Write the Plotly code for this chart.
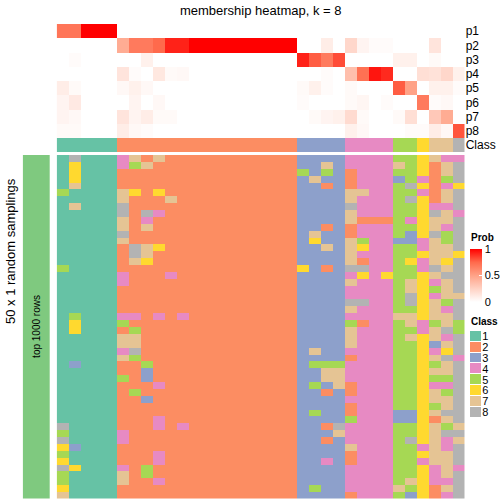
import plotly.graph_objects as go

W = H = 504
def fx(px): return px / W
def fy(py): return 1 - py / H

# ---------------- data ----------------
n_cols = 34
col_ids = list(range(n_cols))
prob_labels = ["p1", "p2", "p3", "p4", "p5", "p6", "p7", "p8"]

p1 = [0.7, 0.7, 1, 1, 1] + [0] * 29
p2 = [0, 0, 0, 0, 0, 0.45, 0.68, 0.68, 0.75, 0.92, 0.92] + [1.0] * 9 + \
     [0, 0, 0.1, 0, 0.22, 0.06, 0.02, 0.02, 0, 0, 0, 0.15, 0, 0]
p3 = [0, 0.02, 0, 0, 0, 0, 0, 0.08] + [0] * 12 + \
     [0.92, 0.78, 0.68, 0.82, 0, 0, 0, 0, 0.08, 0.08, 0, 0.03, 0, 0]
p4 = [0, 0, 0, 0, 0, 0.15, 0.02, 0, 0.13, 0.03, 0.04] + [0] * 9 + \
     [0, 0, 0.02, 0, 0.35, 0.72, 0.95, 0.9, 0, 0, 0.18, 0.16, 0.22, 0.08]
p5 = [0.1, 0.03, 0, 0, 0, 0.04, 0.08, 0.04, 0, 0, 0] + [0] * 9 + \
     [0.03, 0.08, 0.02, 0, 0.03, 0, 0, 0, 0.78, 0.5, 0, 0.08, 0.08, 0.02]
p6 = [0.06, 0.12, 0, 0, 0, 0, 0.06, 0, 0.04, 0, 0] + [0] * 9 + \
     [0.02, 0, 0, 0, 0.03, 0.05, 0, 0.02, 0, 0, 0.68, 0.02, 0.04, 0]
p7 = [0.06, 0.04, 0, 0, 0, 0.15, 0.06, 0.1, 0.03, 0.03, 0] + [0] * 9 + \
     [0, 0.03, 0.06, 0.08, 0.2, 0.03, 0, 0, 0.03, 0.18, 0, 0.3, 0.45, 0]
p8 = [0.03, 0.03, 0, 0, 0, 0.1, 0.04, 0.02, 0, 0, 0] + [0] * 9 + \
     [0, 0, 0, 0, 0.08, 0.04, 0, 0, 0, 0.02, 0.02, 0.1, 0.04, 0.8]

col_class = [1] * 5 + [2] * 15 + [3] * 4 + [4] * 4 + [5] * 2 + [6] + [7] * 2 + [8]

body_rows = [
    "18111 472722222222222 3333 4444 55 6 74 4",
    "16111 457222222222222 3373 4444 75 6 27 8",
    "16111 222222222222222 5353 2444 55 6 27 8",
    "16111 222222222222222 3733 2444 35 4 25 8",
    "17111 222222222222222 3323 2444 58 6 24 6",
    "51111 762622222222222 3333 7744 55 4 27 8",
    "11111 722272222222222 3333 7444 58 6 27 8",
    "17111 822222222222222 3333 8444 55 6 44 8",
    "11111 828422222222222 3333 7444 55 6 87 4",
    "11111 724222222222222 3333 7222 54 6 77 8",
    "11111 727222222222222 3323 2444 55 6 74 8",
    "11111 822222222222222 3733 2444 53 6 85 8",
    "11111 722222222222222 3633 7544 33 4 75 8",
    "11111 287622222222222 3373 7644 55 4 77 8",
    "11111 287222222222222 3333 7444 55 6 77 6",
    "11111 276222222222222 3333 7244 56 4 76 8",
    "51111 222222222222222 6323 8844 55 4 87 8",
    "11111 422242222222222 3333 4646 55 6 78 8",
    "11111 422222222222222 3333 7444 57 6 47 8",
    "11111 222222222222222 3333 4444 57 6 57 8",
    "11111 222222222222222 3333 4444 58 6 47 7",
    "11111 222222222222222 3333 8844 58 6 75 8",
    "11111 222222222222222 3333 7444 55 6 74 8",
    "15111 442424222222222 3333 4444 77 6 77 8",
    "16111 522222222222222 3333 5244 57 4 57 5",
    "16111 252222222222222 3333 7444 55 4 78 5",
    "11111 772222222222222 3333 7444 57 6 74 8",
    "11111 772222222222222 3333 7444 55 6 37 8",
    "11111 482222222222222 3733 4444 55 6 46 8",
    "11111 752222222222222 3333 2444 55 6 78 4",
    "13111 225222222222222 3555 4444 55 6 57 8",
    "11111 223222222222222 3377 4444 55 6 77 8",
    "11111 523222222222222 3377 4444 55 6 55 8",
    "11111 222422222222222 3537 2444 55 6 44 8",
    "11111 252222222222222 3323 2444 55 6 75 8",
    "11111 223222222222222 3333 4444 55 6 77 8",
    "11111 222222222222222 3333 2444 55 6 57 8",
    "11111 222222222222222 3533 2444 33 6 78 8",
    "11111 222422222222222 3333 5444 33 6 27 8",
    "81111 222424222222222 3328 4444 55 6 75 7",
    "51111 422222222222222 3337 4444 55 6 78 8",
    "81111 422222222222222 3323 4444 58 6 74 7",
    "63111 222222222222222 3333 7444 55 4 74 8",
    "51111 222422222222222 3333 2444 55 6 77 8",
    "61111 222422222222222 3343 2444 55 4 77 8",
    "86111 425222222222222 3333 4444 55 6 47 4",
    "51111 725222222222222 3333 4444 55 6 47 8",
    "51111 722422222222222 3333 4444 57 6 44 8",
    "61111 222222222222222 3533 4444 75 6 27 8",
    "71111 222222222222222 3333 2444 53 6 24 8",
]

class_names = ["1", "2", "3", "4", "5", "6", "7", "8"]
class_colors = ["#66C2A5", "#FC8D62", "#8DA0CB", "#E78AC3",
                "#A6D854", "#FFD92F", "#E5C494", "#B3B3B3"]

# ---------------- build ----------------
prob = [p1, p2, p3, p4, p5, p6, p7, p8]
body = [[int(ch) for ch in r.replace(" ", "")] for r in body_rows]

disc_scale = []
for i, c in enumerate(class_colors):
    disc_scale.append([i / 8, c])
    disc_scale.append([(i + 1) / 8, c])

prob_scale = [[0, "#FFFFFF"], [0.25, "#FFD2C4"], [0.5, "#FFA287"],
              [0.75, "#FF6A4C"], [1, "#FF0000"]]

FONT = "Liberation Sans, Arial, sans-serif"
X0, X1 = 56.7, 464.7

fig = go.Figure()

fig.add_trace(go.Heatmap(
    z=prob, x=col_ids, y=prob_labels, xaxis="x", yaxis="y",
    colorscale=prob_scale, zmin=0, zmax=1, hoverinfo="skip",
    colorbar=dict(x=fx(470), xanchor="left", y=fy(249), yanchor="top",
                  len=53, lenmode="pixels", thickness=12, thicknessmode="pixels",
                  xpad=0, ypad=0, outlinewidth=0,
                  tickvals=[0, 0.5, 1], ticktext=["0", "0.5", "1"],
                  ticks="inside", ticklen=3, tickcolor="white",
                  tickfont=dict(size=11, family=FONT, color="black"))))

fig.add_trace(go.Heatmap(
    z=[col_class], x=col_ids, y=["Class"], xaxis="x", yaxis="y2",
    colorscale=disc_scale, zmin=0.5, zmax=8.5, showscale=False, hoverinfo="skip"))

fig.add_trace(go.Heatmap(
    z=body, x=col_ids, y=list(range(len(body))), xaxis="x", yaxis="y3",
    colorscale=disc_scale, zmin=0.5, zmax=8.5, showscale=False, hoverinfo="skip"))

fig.add_trace(go.Heatmap(
    z=[[1]], x=[0], y=[0], xaxis="x2", yaxis="y4",
    colorscale=[[0, "#7FC97F"], [1, "#7FC97F"]], showscale=False, hoverinfo="skip"))

fig.add_trace(go.Heatmap(
    z=[[i + 1] for i in range(8)], x=[0], y=class_names, xaxis="x3", yaxis="y5",
    colorscale=disc_scale, zmin=0.5, zmax=8.5, showscale=False, ygap=1,
    hoverinfo="skip"))

hidden = dict(showgrid=False, zeroline=False, showticklabels=False, ticks="",
              showline=False)

fig.update_layout(
    width=W, height=H, autosize=False,
    margin=dict(l=0, r=0, t=0, b=0),
    paper_bgcolor="white", plot_bgcolor="white",
    font=dict(family=FONT, color="black"),
    title=dict(text="membership heatmap, k = 8", x=fx((X0 + X1) / 2), xanchor="center",
               y=fy(10), yanchor="middle", font=dict(size=13, family=FONT)),
    xaxis=dict(domain=[fx(X0), fx(X1)], range=[-0.5, n_cols - 0.5], anchor="y3", **hidden),
    yaxis=dict(domain=[fy(138), fy(24)], autorange="reversed", anchor="x", side="right",
               showgrid=False, zeroline=False, ticks="", showline=False,
               tickfont=dict(size=12, family=FONT)),
    yaxis2=dict(domain=[fy(152.3), fy(138)], anchor="x", side="right",
                showgrid=False, zeroline=False, ticks="", showline=False,
                tickfont=dict(size=12, family=FONT)),
    yaxis3=dict(domain=[fy(498.5), fy(155)], autorange="reversed", anchor="x", **hidden),
    xaxis2=dict(domain=[fx(22.7), fx(50)], anchor="y4", **hidden),
    yaxis4=dict(domain=[fy(498.5), fy(155)], anchor="x2", **hidden),
    xaxis3=dict(domain=[fx(470), fx(481.3)], anchor="y5", **hidden),
    yaxis5=dict(domain=[fy(417.5), fy(331)], autorange="reversed", anchor="x3",
                side="right", showgrid=False, zeroline=False, ticks="", showline=False,
                tickmode="array", tickvals=class_names, ticktext=class_names,
                tickfont=dict(size=11, family=FONT)),
    annotations=[
        dict(text="50 x 1 random samplings", x=fx(10), y=fy(251), xref="paper",
             yref="paper", xanchor="center", yanchor="middle", textangle=-90,
             showarrow=False, font=dict(size=13, family=FONT)),
        dict(text="top 1000 rows", x=fx(36.4), y=fy(326.5), xref="paper",
             yref="paper", xanchor="center", yanchor="middle", textangle=-90,
             showarrow=False, font=dict(size=10, family=FONT)),
        dict(text="<b>Prob</b>", x=fx(469), y=fy(237), xref="paper", yref="paper",
             xanchor="left", yanchor="middle", showarrow=False,
             font=dict(size=10, family=FONT)),
        dict(text="<b>Class</b>", x=fx(469), y=fy(321), xref="paper", yref="paper",
             xanchor="left", yanchor="middle", showarrow=False,
             font=dict(size=10, family=FONT)),
    ],
)

fig.write_html("out.html", config={"displayModeBar": False},
               post_script="document.body.style.margin='0';document.body.style.overflow='hidden';")
